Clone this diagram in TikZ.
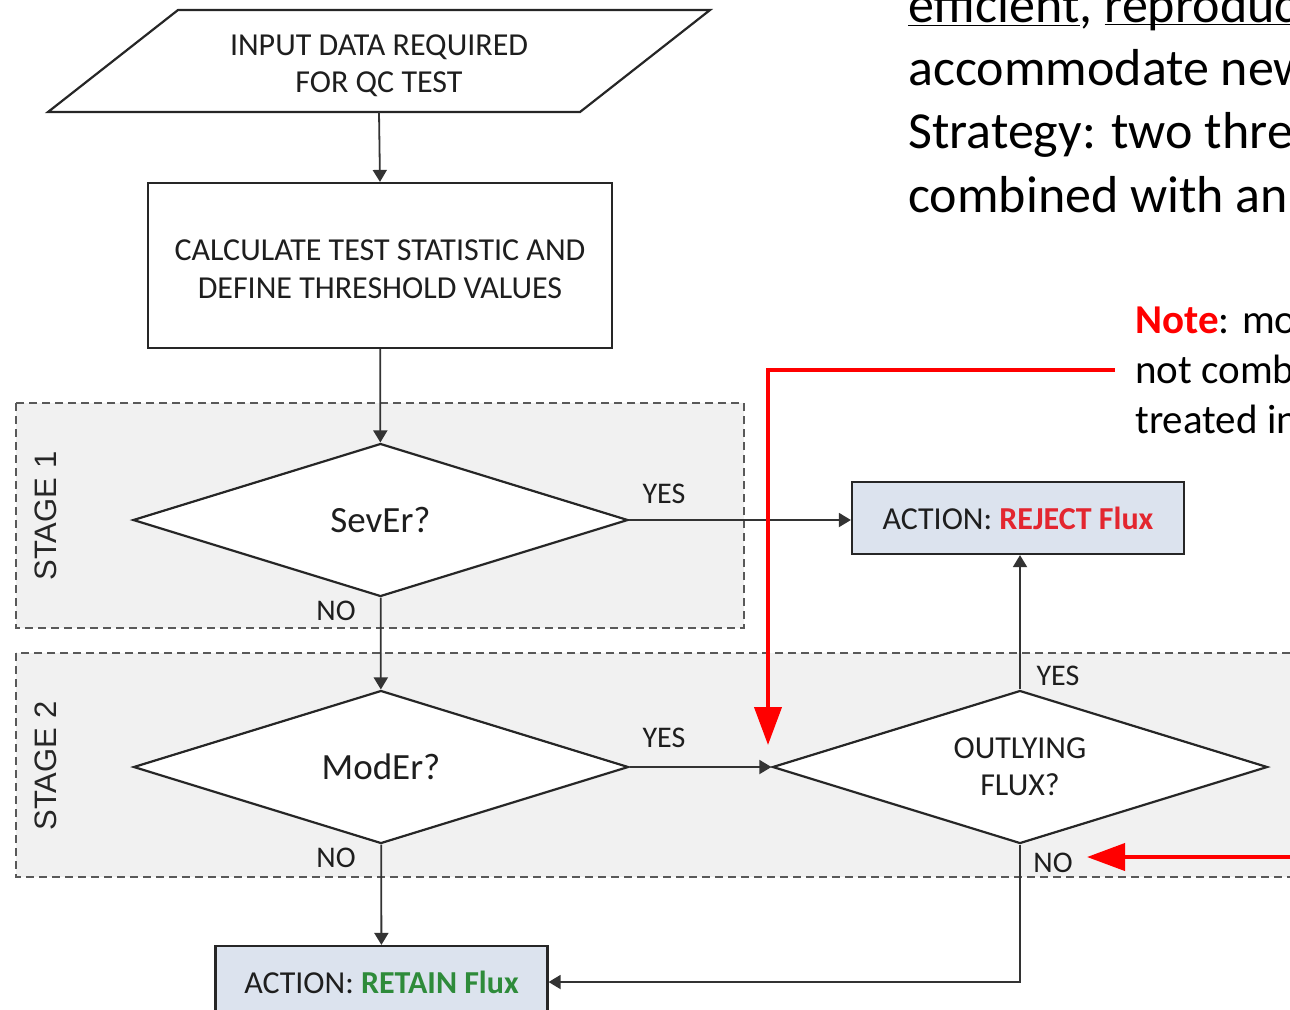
\documentclass[tikz,border=0pt]{standalone}
\usepackage{fontspec}
\setmainfont{Carlito}
\newfontfamily\stagefont{Liberation Sans}
\usetikzlibrary{shapes.geometric,arrows.meta}

\definecolor{stagegray}{HTML}{F1F1F1}
\definecolor{actionblue}{HTML}{DCE3EE}
\definecolor{rejectred}{HTML}{E3262F}
\definecolor{retaingreen}{HTML}{2E8B3A}
\definecolor{inkgray}{HTML}{1E1E1E}
\definecolor{notered}{HTML}{FF0000}

\tikzset{
  flowshape/.style={draw=black!85, line width=1.1pt, text=inkgray, inner sep=0pt},
  process/.style={flowshape, rectangle, fill=white, align=center, font=\fontsize{16}{19}\selectfont},
  decision/.style={flowshape, diamond, aspect=3.2, fill=white, align=center,
    minimum width=247.5pt, minimum height=76.5pt},
  action/.style={flowshape, rectangle, fill=actionblue, minimum width=166pt,
    minimum height=36pt, font=\fontsize{16}{18}\selectfont},
  branch/.style={text=inkgray, inner sep=0pt, font=\fontsize{15}{15}\selectfont},
  stagebox/.style={fill=stagegray, draw=black!65, line width=1.2pt, dash pattern=on 4pt off 2.5pt},
  stagelabel/.style={rotate=90, text=black!85, inner sep=0pt, font=\stagefont\fontsize{15.5}{15.5}\selectfont},
  flowarrow/.style={draw=black!80, line width=0.9pt, -{Triangle[length=6pt,width=7pt]}},
  notearrow/.style={draw=notered, line width=2pt, -{Triangle[length=19pt,width=13.5pt]}},
  slidetext/.style={anchor=base west, inner sep=0pt, font=\fontsize{26}{31}\selectfont},
  notetext/.style={anchor=base west, inner sep=0pt, font=\fontsize{20.5}{25}\selectfont}
}

\begin{document}
\begin{tikzpicture}[x=0.5pt, y=-0.5pt]
  \useasboundingbox (0,0) rectangle (1290,1009);
  \clip (0,0) rectangle (1290,1009);

  % stage backgrounds
  \draw[stagebox] (16,403) rectangle (744,628);
  \draw[stagebox] (16,653) rectangle (1300,877);
  \node[stagelabel] (stage1) at (46,516) {STAGE 1};
  \node[stagelabel] (stage2) at (46,766) {STAGE 2};

  % input (parallelogram)
  \draw[flowshape, fill=white] (178,10) -- (710,10) -- (580,112) -- (48,112) -- cycle;
  \node[text=inkgray, align=center, font=\fontsize{16}{18.5}\selectfont] (input) at (379,66)
    {INPUT DATA REQUIRED\\FOR QC TEST};
  \coordinate (inputbot) at (379,112);

  \node[process, minimum width=232pt, minimum height=82.5pt] (calc) at (380,265.5)
    {\rule{0pt}{14pt}CALCULATE TEST STATISTIC AND\\DEFINE THRESHOLD VALUES};

  % decisions
  \node[decision, font=\fontsize{18.5}{20}\selectfont] (sever) at (380.5,520) {SevEr?};
  \node[decision, font=\fontsize{18.5}{20}\selectfont] (moder) at (381,767) {ModEr?};
  \node[decision, font=\fontsize{16}{18.5}\selectfont] (outly) at (1020,767) {OUTLYING\\FLUX?};

  % actions
  \node[action] (reject) at (1018,518) {ACTION: \textcolor{rejectred}{\textbf{REJECT Flux}}};
  \node[action] (retain) at (381.5,982) {ACTION: \textcolor{retaingreen}{\textbf{RETAIN Flux}}};

  % yes / no
  \node[branch] (yes1) at (664,494) {YES};
  \node[branch] (no1) at (336,611) {NO};
  \node[branch] (yes2) at (664,738) {YES};
  \node[branch] (no2) at (336,858) {NO};
  \node[branch] (yes3) at (1058,676) {YES};
  \node[branch] (no3) at (1053,863) {NO};

  % connectors
  \draw[flowarrow] (inputbot) -- (calc.north);
  \draw[flowarrow] (calc) -- (sever);
  \draw[flowarrow] (sever.east) -- (sever.east -| reject.west);
  \draw[flowarrow] (sever) -- (moder);
  \draw[flowarrow] (moder) -- (outly);
  \draw[flowarrow] (outly.north) -- (outly.north |- reject.south);
  \draw[flowarrow] (moder) -- (retain);
  \draw[flowarrow] (outly.south) |- (retain.east);

  % slide text
  \node[slidetext] (line0) at (908,22) {\underline{efficient}, \underline{\smash{reproduc}}};
  \node[slidetext] (line1) at (908,85) {accommodate new};
  \node[slidetext] (line2) at (908,148) {Strategy: two thre};
  \node[slidetext] (line3) at (908,212) {combined with an};

  \node[notetext] (note1) at (1135,333) {\textcolor{notered}{\textbf{Note}}: mo};
  \node[notetext] (note2) at (1135,383) {not comb};
  \node[notetext] (note3) at (1135,433) {treated in};

  % red pointers
  \coordinate (notestart) at (1115,370);
  \coordinate (notetip) at (768,745);
  \coordinate (nostart) at (1300,857);
  \coordinate (notip) at (1087,857);
  \draw[notearrow] (notestart) -| (notetip);
  \draw[notearrow] (nostart) -- (notip);
\end{tikzpicture}
\end{document}
